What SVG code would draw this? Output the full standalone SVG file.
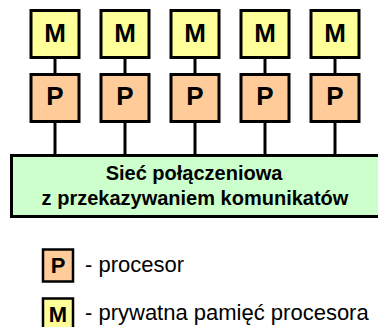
<svg xmlns="http://www.w3.org/2000/svg" width="378" height="327" viewBox="0 0 378 327">
<style>
.box{stroke:#000;stroke-width:3}
.m{fill:#FFFF99}
.p{fill:#FFCC99}
.net{fill:#CCFFCC}
.lbl{font-family:"Liberation Sans",Arial,sans-serif;font-weight:bold;text-anchor:middle;fill:#000}
.big{font-size:26px}
.nt{font-size:20px}
.sm{font-size:22px}
.leg{font-family:"Liberation Sans",Arial,sans-serif;font-size:22px;fill:#000}
.conn line{stroke:#000;stroke-width:3}
</style>
<rect width="378" height="327" fill="#fff"/>
<g id="connectors" class="conn">
<line x1="55" y1="58" x2="55" y2="74"/>
<line x1="55" y1="121" x2="55" y2="156"/>
<line x1="125" y1="58" x2="125" y2="74"/>
<line x1="125" y1="121" x2="125" y2="156"/>
<line x1="195" y1="58" x2="195" y2="74"/>
<line x1="195" y1="121" x2="195" y2="156"/>
<line x1="265" y1="58" x2="265" y2="74"/>
<line x1="265" y1="121" x2="265" y2="156"/>
<line x1="335" y1="58" x2="335" y2="74"/>
<line x1="335" y1="121" x2="335" y2="156"/>
</g>
<g id="network">
<rect class="box net" x="11.5" y="155.5" width="370" height="61"/>
<text class="lbl nt" x="194" y="180">Sieć połączeniowa</text>
<text class="lbl nt" x="195" y="205">z przekazywaniem komunikatów</text>
</g>
<g id="m1"><rect class="box m" x="31" y="10.5" width="48" height="47"/><text class="lbl big" x="55" y="42">M</text></g>
<g id="m2"><rect class="box m" x="101" y="10.5" width="48" height="47"/><text class="lbl big" x="125" y="42">M</text></g>
<g id="m3"><rect class="box m" x="171" y="10.5" width="48" height="47"/><text class="lbl big" x="195" y="42">M</text></g>
<g id="m4"><rect class="box m" x="241" y="10.5" width="48" height="47"/><text class="lbl big" x="265" y="42">M</text></g>
<g id="m5"><rect class="box m" x="311" y="10.5" width="48" height="47"/><text class="lbl big" x="335" y="42">M</text></g>
<g id="p1"><rect class="box p" x="31" y="74.5" width="48" height="47"/><text class="lbl big" x="55" y="105">P</text></g>
<g id="p2"><rect class="box p" x="101" y="74.5" width="48" height="47"/><text class="lbl big" x="125" y="105">P</text></g>
<g id="p3"><rect class="box p" x="171" y="74.5" width="48" height="47"/><text class="lbl big" x="195" y="105">P</text></g>
<g id="p4"><rect class="box p" x="241" y="74.5" width="48" height="47"/><text class="lbl big" x="265" y="105">P</text></g>
<g id="p5"><rect class="box p" x="311" y="74.5" width="48" height="47"/><text class="lbl big" x="335" y="105">P</text></g>
<g id="legend-p">
<rect class="p" x="43" y="249.5" width="30" height="32" stroke="#000" stroke-width="2.5"/>
<text class="lbl sm" x="58" y="273">P</text>
<text class="leg" x="85" y="272">- procesor</text>
</g>
<g id="legend-m">
<rect class="m" x="43" y="298.5" width="30" height="32" stroke="#000" stroke-width="2.5"/>
<text class="lbl sm" x="58" y="322">M</text>
<text class="leg" x="85" y="320">- prywatna pamięć procesora</text>
</g>
</svg>
